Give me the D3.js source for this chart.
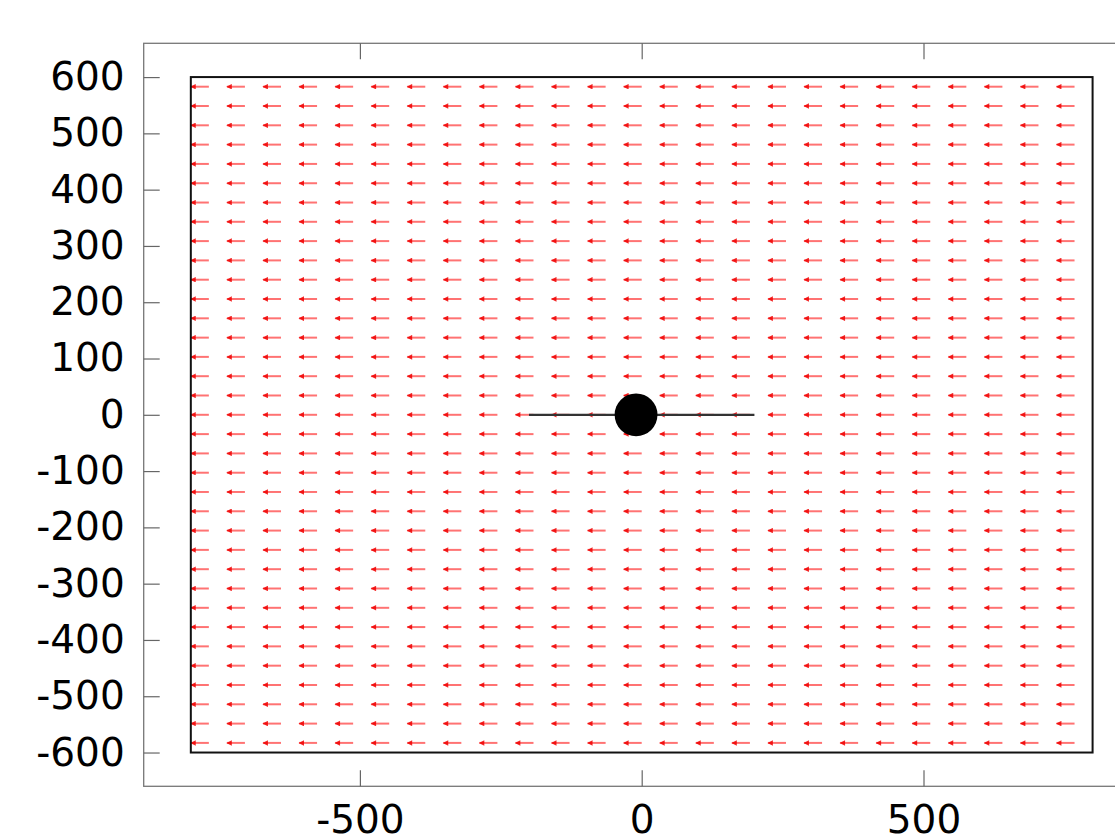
<!DOCTYPE html>
<html>
<head>
  <meta charset="utf-8">
  <script src="https://d3js.org/d3.v7.min.js"></script>
  <style>
    html, body { margin: 0; padding: 0; background: #fff; }
    svg { display: block; }
    .tick text { font-family: "DejaVu Sans", sans-serif; font-size: 39px; fill: #000; }
    .tick line { stroke: #666; stroke-width: 1.2; }
    .domain { display: none; }
  </style>
</head>
<body>
<svg id="canvas" width="1115" height="837"></svg>
<script>
  // field sample points (cell centres)
  const xGrid = [-768, -704, -640, -576, -512, -448, -384, -320, -256, -192, -128, -64, 0,
                 64, 128, 192, 256, 320, 384, 448, 512, 576, 640, 704, 768];
  const yGrid = [582.9, 548.6, 514.3, 480, 445.7, 411.4, 377.1, 342.9, 308.6, 274.3, 240, 205.7,
                 171.4, 137.1, 102.9, 68.6, 34.3, 0, -34.3, -68.6, -102.9, -137.1, -171.4, -205.7,
                 -240, -274.3, -308.6, -342.9, -377.1, -411.4, -445.7, -480, -514.3, -548.6, -582.9];
  const fieldU = -32;   // uniform vector component along x
  const fieldV = 0;

  const boxX = [-800, 800];
  const boxY = [-600, 600];
  const segX = [-200, 200];
  const segY = [0, 0];
  const body = { x: -10, y: 0, r: 38 };

  const xTicks = [-500, 0, 500, 1000];
  const yTicks = [-600, -500, -400, -300, -200, -100, 0, 100, 200, 300, 400, 500, 600];

  const svg = d3.select("svg");
  const x = d3.scaleLinear().domain([-883.6, 883.6]).range([143.7, 1139.7]);
  const y = d3.scaleLinear().domain([-660, 660]).range([786.3, 43.3]);
  const fmt = d => String(d);   // plain hyphen minus, like the original

  // outer frame
  svg.append("rect")
    .attr("x", x(-883.6)).attr("y", y(660))
    .attr("width", x(883.6) - x(-883.6)).attr("height", y(-660) - y(660))
    .attr("fill", "none").attr("stroke", "#777").attr("stroke-width", 1.3);

  svg.append("g")
    .attr("transform", `translate(${x(-883.6)},0)`)
    .call(d3.axisLeft(y).tickValues(yTicks).tickSize(-16).tickPadding(19).tickFormat(fmt));

  svg.append("g")
    .attr("transform", `translate(0,${y(-660)})`)
    .call(d3.axisBottom(x).tickValues(xTicks).tickSize(-16).tickPadding(19).tickFormat(fmt));

  svg.append("g")
    .attr("transform", `translate(0,${y(660)})`)
    .call(d3.axisTop(x).tickValues(xTicks).tickSize(-16).tickFormat(""));

  // arrow head
  svg.append("defs").append("marker")
    .attr("id", "head")
    .attr("markerUnits", "userSpaceOnUse")
    .attr("viewBox", "0 0 10 10")
    .attr("refX", 9).attr("refY", 5)
    .attr("markerWidth", 7).attr("markerHeight", 5.5)
    .attr("orient", "auto")
    .append("path")
      .attr("d", "M0,0 L10,5 L0,10 Z")
      .attr("fill", "rgba(240,0,0,0.85)");

  const pts = [];
  yGrid.forEach(yy => xGrid.forEach(xx => pts.push({ x: xx, y: yy })));

  svg.append("g")
    .selectAll("line")
    .data(pts)
    .join("line")
      .attr("x1", d => x(d.x)).attr("y1", d => y(d.y))
      .attr("x2", d => x(d.x + fieldU)).attr("y2", d => y(d.y + fieldV))
      .attr("stroke", "rgba(255,0,0,0.55)")
      .attr("stroke-width", 2)
      .attr("marker-end", "url(#head)");

  // inner box
  svg.append("rect")
    .attr("x", x(boxX[0])).attr("y", y(boxY[1]))
    .attr("width", x(boxX[1]) - x(boxX[0])).attr("height", y(boxY[0]) - y(boxY[1]))
    .attr("fill", "none").attr("stroke", "#111").attr("stroke-width", 2);

  svg.append("line")
    .attr("x1", x(segX[0])).attr("y1", y(segY[0]))
    .attr("x2", x(segX[1])).attr("y2", y(segY[1]))
    .attr("stroke", "#333").attr("stroke-width", 2.2);

  svg.append("circle")
    .attr("cx", x(body.x)).attr("cy", y(body.y))
    .attr("r", x(body.r) - x(0))
    .attr("fill", "#000");
</script>
</body>
</html>
